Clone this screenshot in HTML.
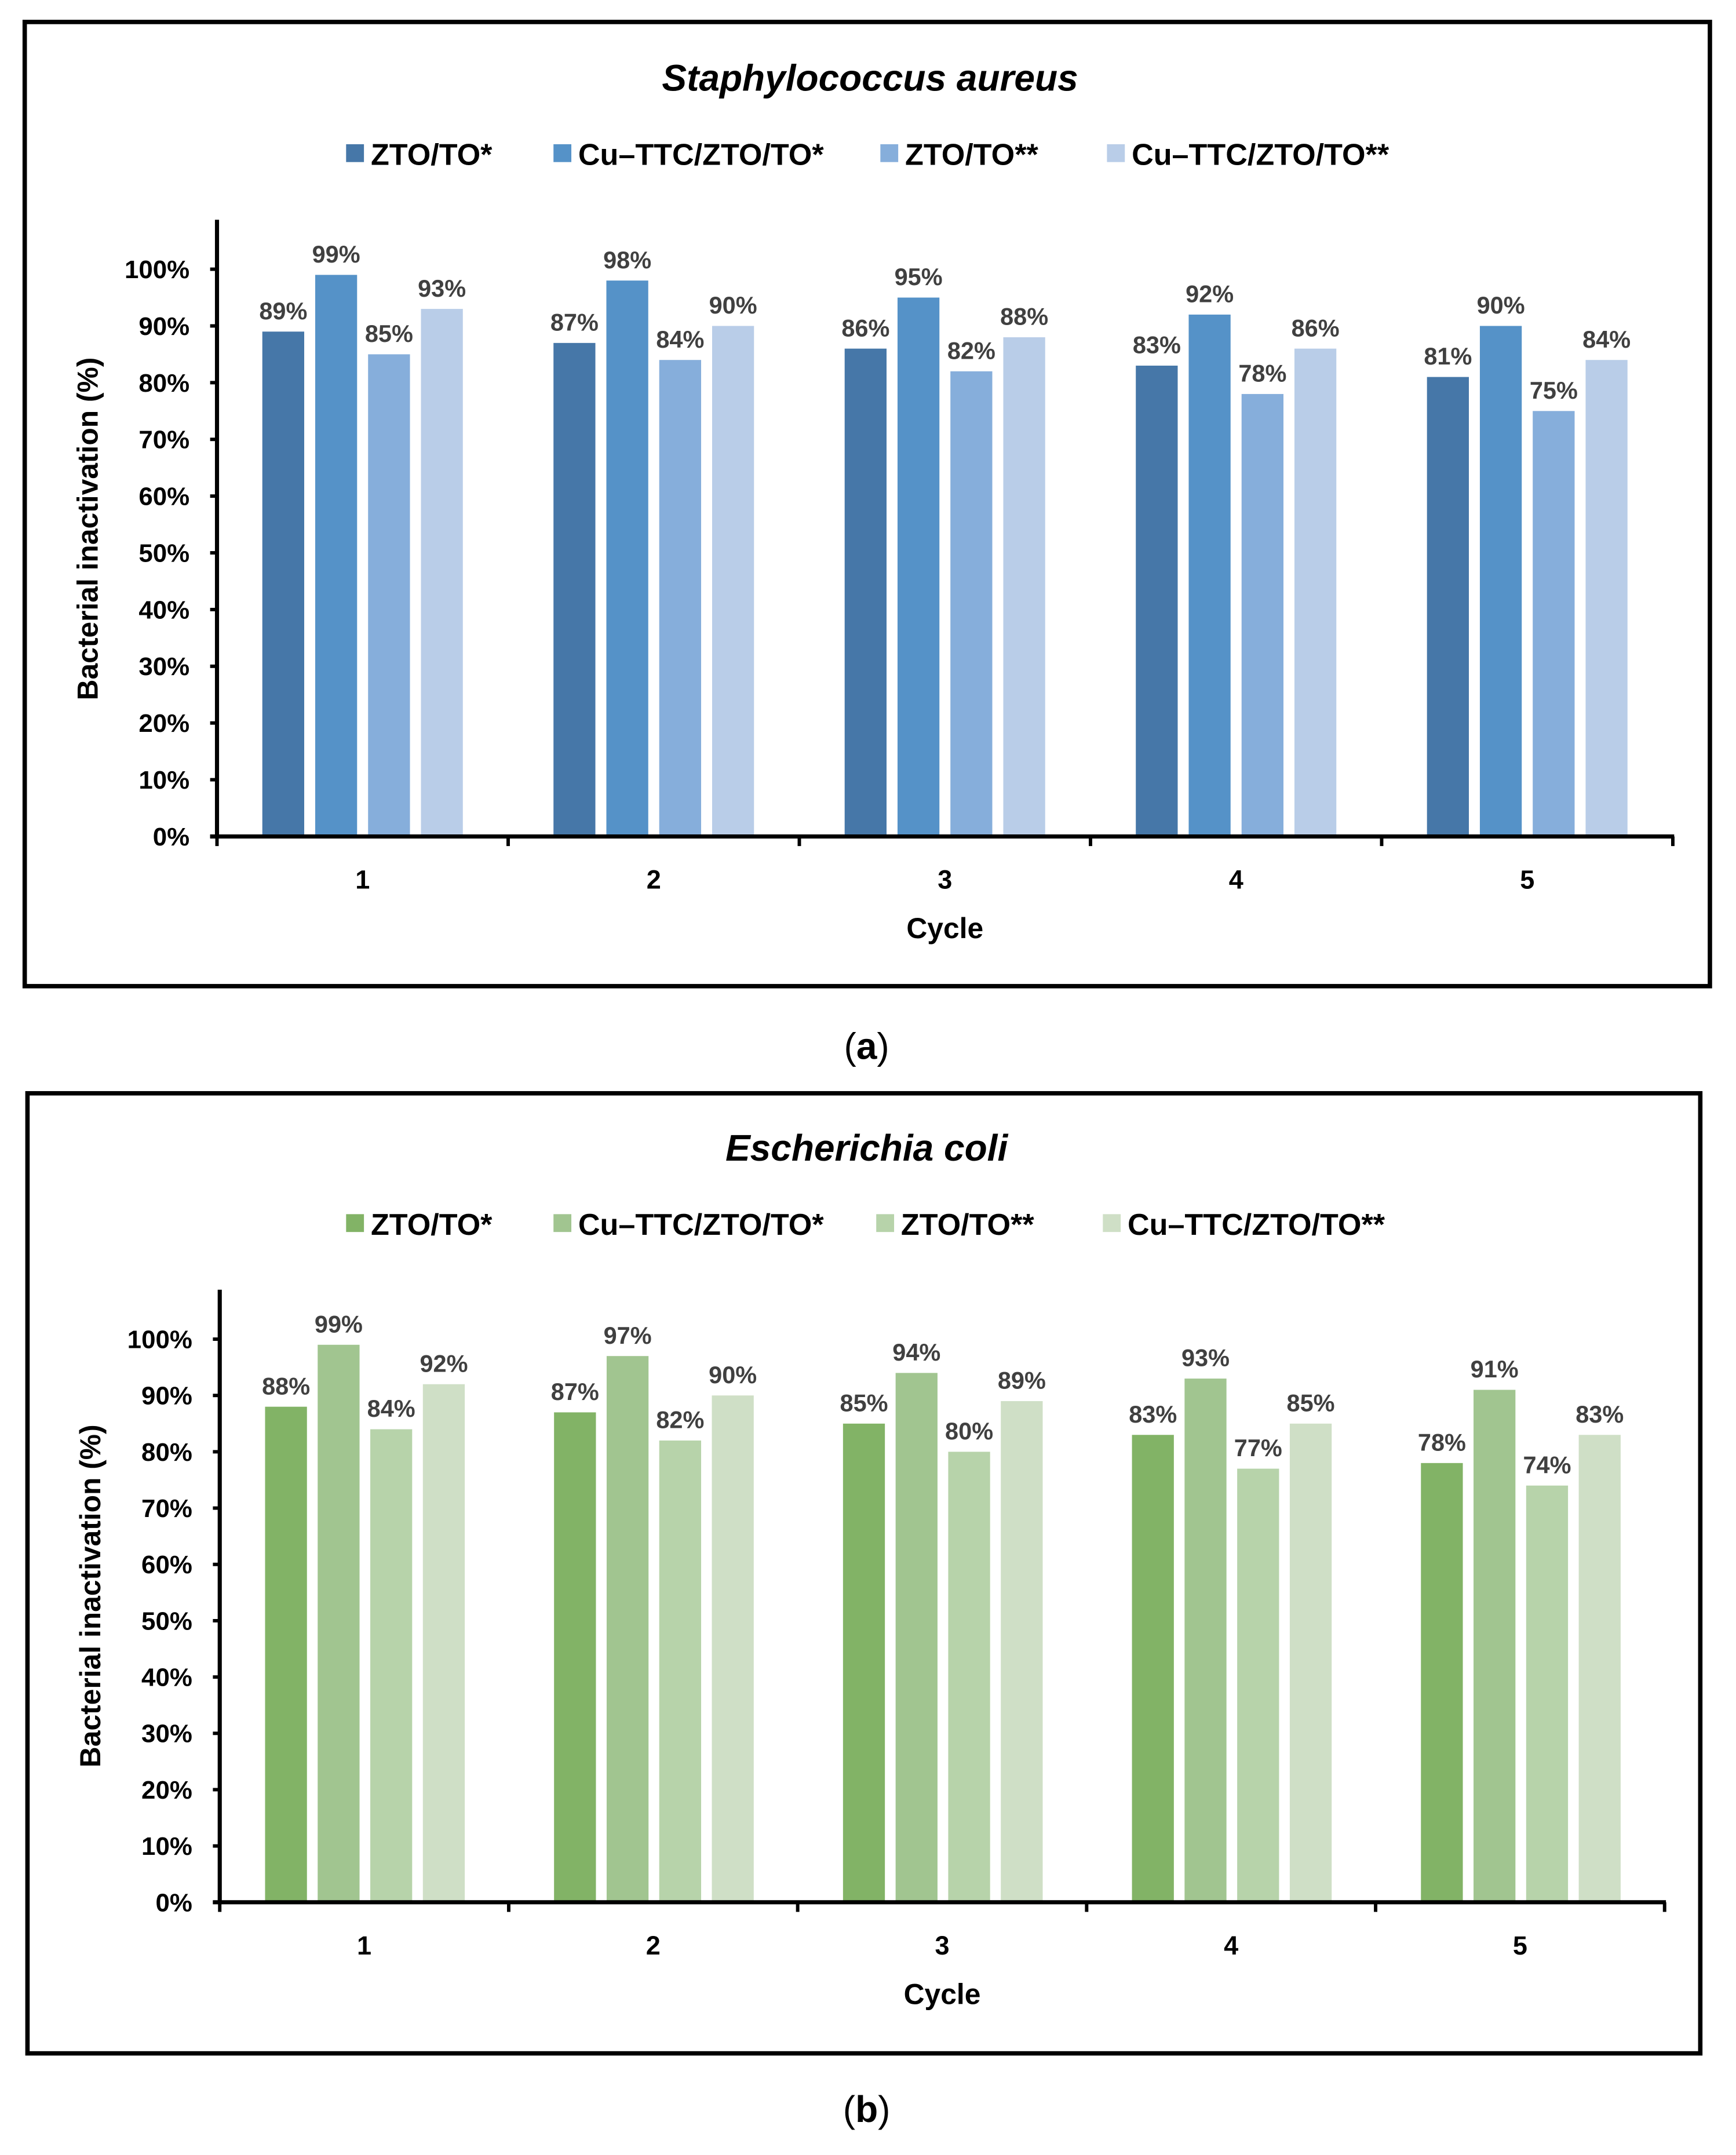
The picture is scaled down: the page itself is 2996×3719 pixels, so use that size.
<!DOCTYPE html>
<html><head><meta charset="utf-8">
<style>
html,body{margin:0;padding:0;background:#fff;}
svg{display:block;}
text{font-family:"Liberation Sans",sans-serif;}
</style></head>
<body>
<svg id="fig" xmlns="http://www.w3.org/2000/svg" width="2996" height="3719" viewBox="0 0 1264 1569" preserveAspectRatio="none">
<rect x="0" y="0" width="1264" height="1569" fill="#fff"/>
</svg>
<script>
const categories = ["1","2","3","4","5"];
const seriesNames = ["ZTO/TO*","Cu\u2013TTC/ZTO/TO*","ZTO/TO**","Cu\u2013TTC/ZTO/TO**"];
const yTicks = [0,10,20,30,40,50,60,70,80,90,100];
const saZto1 = [89,87,86,83,81];
const saCu1 = [99,98,95,92,90];
const saZto2 = [85,84,82,78,75];
const saCu2 = [93,90,88,86,84];
const ecZto1 = [88,87,85,83,78];
const ecCu1 = [99,97,94,93,91];
const ecZto2 = [84,82,80,77,74];
const ecCu2 = [92,90,89,85,83];

const NS = "http://www.w3.org/2000/svg";
const svg = document.getElementById('fig');
function el(tag, attrs, parent, txt){
  const e = document.createElementNS(NS, tag);
  for (const k in attrs) e.setAttribute(k, attrs[k]);
  if (txt !== undefined) e.textContent = txt;
  (parent||svg).appendChild(e);
  return e;
}

function panel(cfg){
  const g = el('g', {});
  
  
  const box = el('rect', {x:cfg.box[0], y:cfg.box[1], width:cfg.box[2]-cfg.box[0], height:cfg.box[3]-cfg.box[1], fill:'none', stroke:'#000', 'stroke-width':3.2}, g);
  
  
  const t = el('text', {x:(cfg.box[0]+cfg.box[2])/2+2, y:cfg.titleY, 'text-anchor':'middle', 'font-size':27, 'font-weight':'bold', 'font-style':'italic', fill:'#000'}, g, cfg.title);
  
  
  for (let i=0;i<4;i++){
    const lg = el('g', {}, g);
    
    
    el('rect', {x:cfg.legX[i], y:cfg.legY-7, width:13, height:13, fill:cfg.colors[i]}, lg);
    el('text', {x:cfg.legX[i]+18, y:cfg.legY+8, 'font-size':22, 'font-weight':'bold', fill:'#000'}, lg, seriesNames[i]);
  }
  const x0 = cfg.ax[0], x1 = cfg.ax[1], yTop = cfg.yTop, y100 = cfg.y100, y0 = cfg.y0;
  const yScale = v => y0 - (y0 - y100) * v / 100;
  const gw = (x1 - x0) / categories.length;
  const xScale = (ci, si) => x0 + ci*gw + cfg.barOff + si*cfg.barStep;
  yTicks.forEach(v=>{
    const y = yScale(v);
    el('line', {x1:x0-5, x2:x0, y1:y, y2:y, stroke:'#000', 'stroke-width':2.5}, g);
    const tl = el('text', {x:x0-20, y:y+6.5, 'text-anchor':'end', 'font-size':18.5, 'font-weight':'bold', fill:'#000'}, g, v+'%');
    
    
  });
  cfg.data.forEach((arr, si)=>{
    arr.forEach((v, ci)=>{
      const x = xScale(ci, si);
      const b = el('rect', {x:x, y:yScale(v), width:cfg.barW, height:y0-yScale(v), fill:cfg.colors[si]}, g);
      
      
      const lb = el('text', {x:x+cfg.barW/2, y:yScale(v)-9, 'text-anchor':'middle', 'font-size':17.5, 'font-weight':'bold', fill:'#404040'}, g, v+'%');
      
      
    });
  });
  const ya = el('line', {x1:x0, x2:x0, y1:yTop, y2:y0+1.5, stroke:'#000', 'stroke-width':3}, g);
  
  
  const xa = el('line', {x1:x0-5, x2:x1+1, y1:y0, y2:y0, stroke:'#000', 'stroke-width':3}, g);
  
  
  for (let i=0;i<=categories.length;i++){
    el('line', {x1:x0+i*gw, x2:x0+i*gw, y1:y0, y2:y0+7, stroke:'#000', 'stroke-width':2.5}, g);
  }
  categories.forEach((c, ci)=>{
    const cl = el('text', {x:x0+(ci+0.5)*gw, y:y0+38, 'text-anchor':'middle', 'font-size':19, 'font-weight':'bold', fill:'#000'}, g, c);
    
    
  });
  const xt = el('text', {x:(x0+x1)/2, y:y0+74, 'text-anchor':'middle', 'font-size':21, 'font-weight':'bold', fill:'#000'}, g, 'Cycle');
  
  
  const yt = el('text', {x:cfg.yTitleX, y:cfg.yTitleY, 'text-anchor':'middle', 'font-size':21, 'font-weight':'bold', fill:'#000', transform:'rotate(-90 '+cfg.yTitleX+' '+cfg.yTitleY+')'}, g, 'Bacterial inactivation (%)');
  
  
  const cap = el('text', {x:631, y:cfg.capY, 'text-anchor':'middle', 'font-size':27, fill:'#000', 'font-family':'Liberation Serif, serif'}, svg);
  
  
  el('tspan', {}, cap, '(');
  el('tspan', {'font-weight':'bold'}, cap, cfg.cap);
  el('tspan', {}, cap, ')');
}

panel({name:'panel-a-staphylococcus', box:[18,16,1245,718], title:'Staphylococcus  aureus', titleY:66,
  legX:[252,403,641,806], legY:112, colors:['#4677a8','#5592c8','#86aedb','#b9cde8'],
  ax:[158,1218], yTop:160, y100:196, y0:609, barOff:33, barStep:38.5, barW:30.5,
  data:[saZto1,saCu1,saZto2,saCu2], yTitleX:71, yTitleY:385, capY:771, cap:'a'});
panel({name:'panel-b-escherichia', box:[20,796,1238,1495], title:'Escherichia coli', titleY:845,
  legX:[252,403,638,803], legY:891, colors:['#82b366','#a1c590','#b7d3aa','#cfdfc6'],
  ax:[160,1212], yTop:939, y100:975, y0:1385, barOff:33, barStep:38.3, barW:30.5,
  data:[ecZto1,ecCu1,ecZto2,ecCu2], yTitleX:73, yTitleY:1162, capY:1545, cap:'b'});
</script>
</body></html>
